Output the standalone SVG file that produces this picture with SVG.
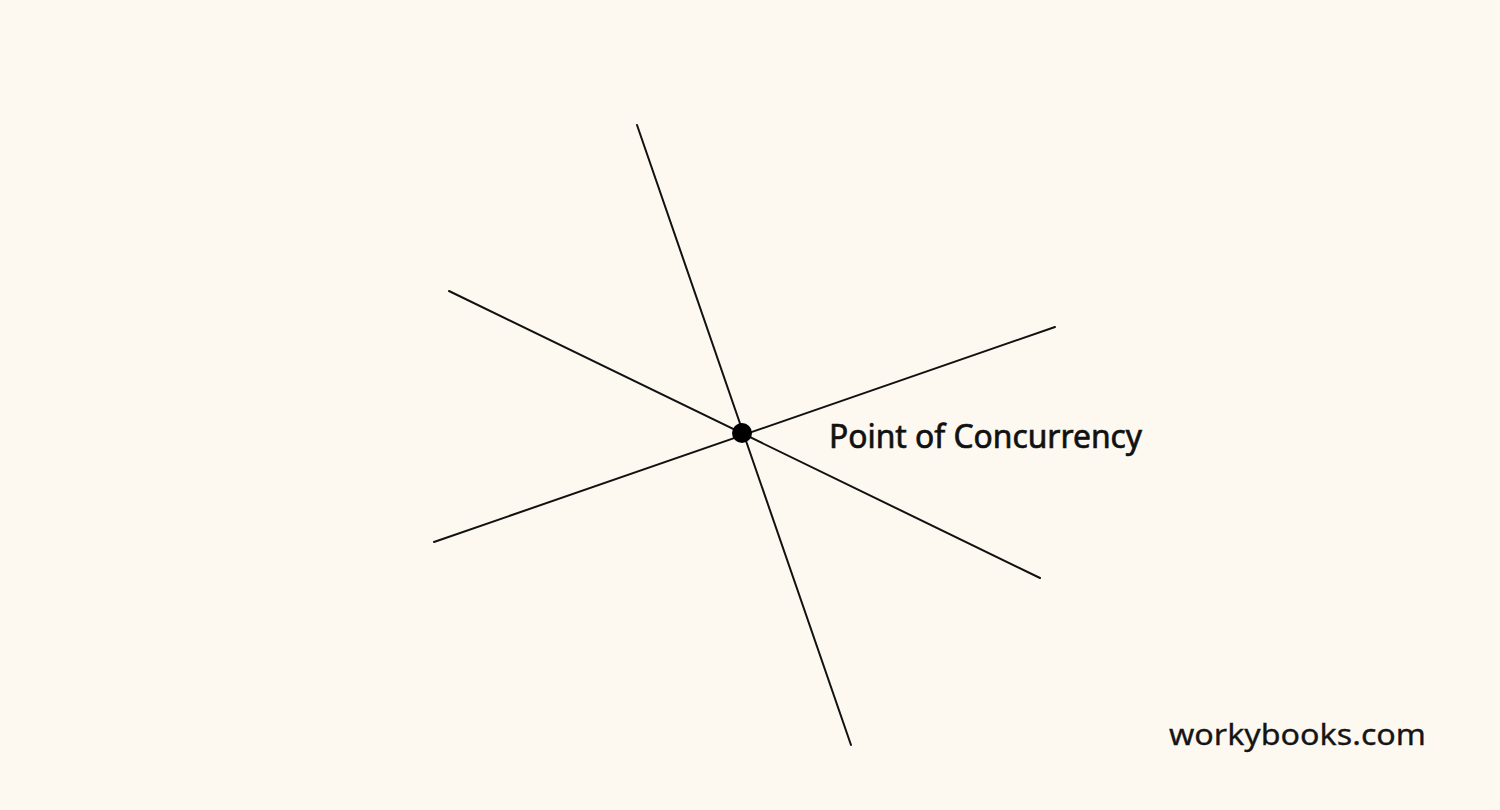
<svg xmlns="http://www.w3.org/2000/svg" width="1500" height="810" viewBox="0 0 1500 810">
<style>
.ln{stroke:#111;stroke-width:2;fill:none;stroke-linecap:round}
.lbl{font-family:"Noto Sans","Open Sans",sans-serif;fill:#111;stroke:#111;stroke-width:0.7}
.wm{font-family:"Noto Sans","Open Sans",sans-serif;fill:#151515;stroke:#151515;stroke-width:0.3}
</style>
<rect width="1500" height="810" fill="#FDF8F0"/>
<g id="connectors">
<line class="ln" x1="637" y1="125" x2="851" y2="745"/>
<line class="ln" x1="449" y1="291" x2="1040" y2="578"/>
<line class="ln" x1="434" y1="542" x2="1055" y2="327"/>
</g>
<g id="point">
<circle cx="742" cy="433" r="10" fill="#000"/>
<text class="lbl" x="829" y="448" font-size="32" textLength="313" lengthAdjust="spacingAndGlyphs">Point of Concurrency</text>
</g>
<g id="watermark">
<text class="wm" x="1169" y="745" font-size="29" textLength="257" lengthAdjust="spacingAndGlyphs">workybooks.com</text>
</g>
</svg>
